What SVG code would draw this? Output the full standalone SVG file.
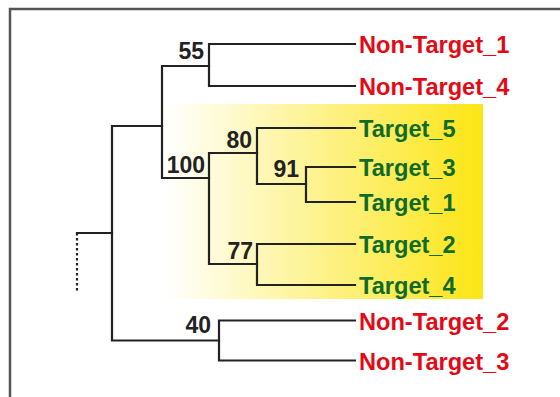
<svg xmlns="http://www.w3.org/2000/svg" width="560" height="397" viewBox="0 0 560 397">
  <defs>
    <linearGradient id="hl" x1="0" y1="0" x2="1" y2="0">
      <stop offset="0" stop-color="#FFFFFF"/>
      <stop offset="1" stop-color="#FCE514"/>
    </linearGradient>
    <style>
      .br{fill:none;stroke:#222;stroke-width:2.2;stroke-linecap:square;stroke-linejoin:miter}
      .dot{fill:none;stroke:#222;stroke-width:2.2;stroke-dasharray:2.5,2.5}
      .frame{fill:none;stroke:#555;stroke-width:2.5}
      .nt{font-family:"Liberation Sans",Arial,sans-serif;font-weight:bold;font-size:23.6px;fill:#E30A17}
      .t{font-family:"Liberation Sans",Arial,sans-serif;font-weight:bold;font-size:23.6px;fill:#0E6B2A}
      .bs{font-family:"Liberation Sans",Arial,sans-serif;font-weight:bold;font-size:23px;fill:#222;text-anchor:end}
    </style>
  </defs>
  <rect width="560" height="397" fill="#FFFFFF"/>
  <path class="frame" d="M10,397 V9 H560"/>
  <rect id="highlight" x="165" y="104" width="318" height="195" fill="url(#hl)"/>

  <g id="connectors">
    <path class="dot" d="M77,233 V292"/>
    <path class="br" d="M77,233 H112"/>
    <path class="br" d="M162,126 H112 V340.5 H219"/>
    <path class="br" d="M209,66 H162 V178 H209"/>
    <path class="br" d="M355,44 H209 V86 H355"/>
    <path class="br" d="M257,153 H209 V264 H257"/>
    <path class="br" d="M355,128 H257 V184 H306"/>
    <path class="br" d="M355,167 H306 V202 H355"/>
    <path class="br" d="M355,244 H257 V285 H355"/>
    <path class="br" d="M355,320.5 H219 V360.5 H355"/>
  </g>

  <g id="node-55"><text class="bs" x="204" y="59">55</text></g>
  <g id="node-100"><text class="bs" x="205" y="172.7">100</text></g>
  <g id="node-80"><text class="bs" x="252" y="147.7">80</text></g>
  <g id="node-91"><text class="bs" x="299" y="177.3">91</text></g>
  <g id="node-77"><text class="bs" x="253" y="259">77</text></g>
  <g id="node-40"><text class="bs" x="211" y="333.3">40</text></g>

  <g id="leaf-nontarget1"><text class="nt" x="359" y="53">Non-Target_1</text></g>
  <g id="leaf-nontarget4"><text class="nt" x="359" y="95">Non-Target_4</text></g>
  <g id="leaf-target5"><text class="t" x="359" y="137">Target_5</text></g>
  <g id="leaf-target3"><text class="t" x="359" y="176">Target_3</text></g>
  <g id="leaf-target1"><text class="t" x="359" y="211">Target_1</text></g>
  <g id="leaf-target2"><text class="t" x="359" y="253">Target_2</text></g>
  <g id="leaf-target4"><text class="t" x="359" y="294">Target_4</text></g>
  <g id="leaf-nontarget2"><text class="nt" x="359" y="329.5">Non-Target_2</text></g>
  <g id="leaf-nontarget3"><text class="nt" x="359" y="369.5">Non-Target_3</text></g>
</svg>
